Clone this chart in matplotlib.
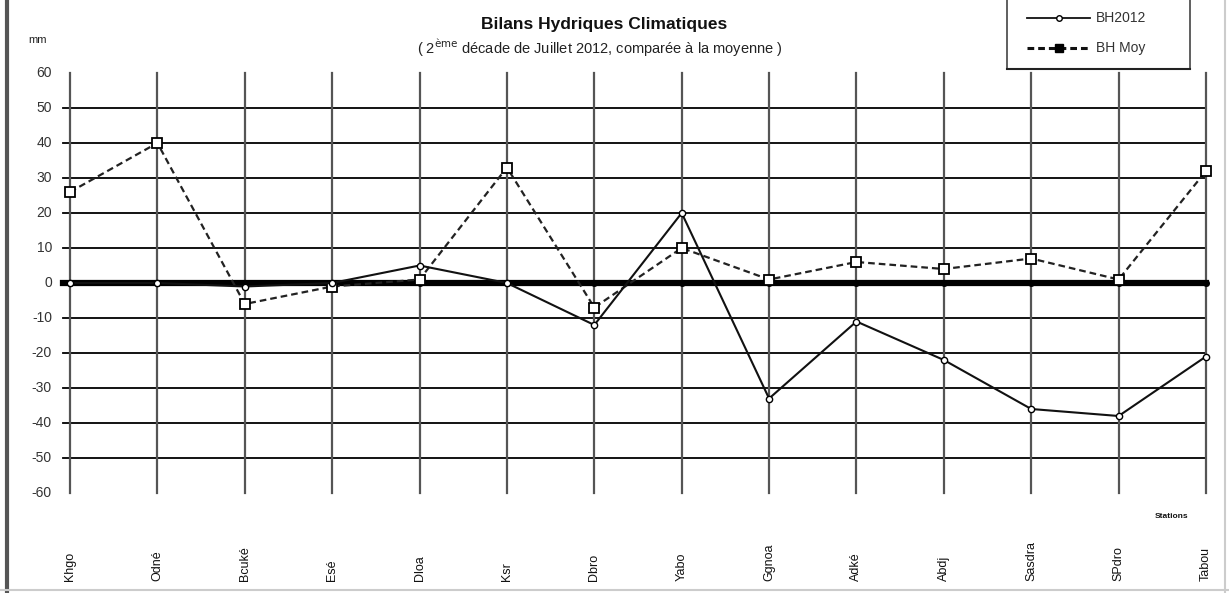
import matplotlib
matplotlib.use("Agg")
import matplotlib.pyplot as plt
from matplotlib.lines import Line2D
import numpy as np

stations = ["Khgo", "Odné", "Bcuké", "Esé", "Dloa", "Ksr", "Dbro", "Yabo",
            "Ggnoa", "Adké", "Abdj", "Sasdra", "SPdro", "Tabou"]
bh2012 = [0, 0, -1, 0, 5, 0, -12, 20, -33, -11, -22, -36, -38, -21]
bh_moy = [26, 40, -6, -1, 1, 33, -7, 10, 1, 6, 4, 7, 1, 32]
zero_line = [0] * len(stations)
ytick_values = [60, 50, 40, 30, 20, 10, 0, -10, -20, -30, -40, -50, -60]
ytick_labels = [str(v) for v in ytick_values]

W, H = 1229, 593
fig = plt.figure(figsize=(W / 100, H / 100), dpi=100)
fig.patch.set_facecolor("white")

x0, x1 = 70, 1206
y_top, y_bot = 73, 493
ax = fig.add_axes([x0 / W, (H - y_bot) / H, (x1 - x0) / W, (y_bot - y_top) / H])
n = len(stations)
x = np.arange(n)
ax.set_xlim(0, n - 1)
ax.set_ylim(-60, 60)
for s in ax.spines.values():
    s.set_visible(False)
ax.set_xticks([])
ax.set_yticks([])

step = (x1 - x0) / (n - 1)
left_ext = -7 / step
for v in ytick_values:
    if abs(v) < 60 and v != 0:
        ax.plot([left_ext, n - 1], [v, v], color="black", lw=1.3, clip_on=False, zorder=1)
for xi in x:
    ax.plot([xi, xi], [-60, 60], color="#555555", lw=1.6, clip_on=False, zorder=1)

# zero line
ax.plot([left_ext] + list(x), [0] + zero_line, color="black", lw=4.5, clip_on=False, zorder=2)
ax.plot(x, zero_line, "o", color="black", ms=4, clip_on=False, zorder=2)

# series
ax.plot(x, bh_moy, color="#222222", lw=1.6, ls=(0, (3, 1.8)), marker="s", ms=6.5,
        mfc="white", mec="black", mew=1.3, clip_on=False, zorder=3)
ax.plot(x, bh2012, color="#111111", lw=1.5, ls="-", marker="o", ms=4.5,
        mfc="white", mec="black", mew=1.0, clip_on=False, zorder=4)

for v, lab in zip(ytick_values, ytick_labels):
    ax.text(-18 / step, v, lab, ha="right", va="center",
            fontsize=10, color="#333333", family="Liberation Sans")

for xi, lab in zip(x, stations):
    fig.text((x0 + xi * step) / W, (H - 581) / H, lab, rotation=90,
             ha="center", va="bottom", fontsize=9, color="#111111", family="Liberation Sans")

fig.text(1172 / W, (H - 516) / H, "Stations", ha="center", va="center", fontsize=6,
         fontweight="bold", color="#111111", family="Liberation Sans")
fig.text(38 / W, (H - 40) / H, "mm", ha="center", va="center", fontsize=8,
         color="#222222", family="Liberation Sans")

fig.text(604 / W, (H - 24) / H, "Bilans Hydriques Climatiques", ha="center", va="center",
         fontsize=12.5, fontweight="bold", color="#111111", family="Liberation Sans")
fig.text(600 / W, (H - 48) / H, "( 2$^{\\rm ème}$ décade de Juillet 2012, comparée à la moyenne )",
         ha="center", va="center", fontsize=10.5, color="#222222", family="Liberation Sans")

# legend box (top open)
lx0, lx1, ly1 = 1007, 1190, 69
fig.add_artist(Line2D([lx0 / W, lx0 / W], [1, (H - ly1) / H], color="#444444", lw=1.2))
fig.add_artist(Line2D([lx1 / W, lx1 / W], [1, (H - ly1) / H], color="#444444", lw=1.2))
fig.add_artist(Line2D([lx0 / W, lx1 / W], [(H - ly1) / H] * 2, color="#222222", lw=1.5))
fig.add_artist(Line2D([1027 / W, 1058.5 / W, 1090 / W], [(H - 18) / H] * 3, color="#111111",
                      lw=1.3, marker="o", markevery=[1], ms=4, mfc="white", mec="black"))
fig.add_artist(Line2D([1027 / W, 1058.5 / W, 1090 / W], [(H - 48) / H] * 3, color="#111111",
                      lw=2.2, ls=(0, (2.2, 1.3)), marker="s", markevery=[1], ms=5.5,
                      mfc="black", mec="black"))
fig.text(1096 / W, (H - 18) / H, "BH2012", ha="left", va="center", fontsize=10,
         color="#333333", family="Liberation Sans")
fig.text(1096 / W, (H - 48) / H, "BH Moy", ha="left", va="center", fontsize=10,
         color="#333333", family="Liberation Sans")

fig.add_artist(Line2D([7 / W, 7 / W], [0, 1], color="#555555", lw=3))
fig.add_artist(Line2D([0, 1], [3 / H, 3 / H], color="#cccccc", lw=1.5))
fig.add_artist(Line2D([1225 / W, 1225 / W], [0, 1], color="#cccccc", lw=1.5))

fig.savefig("out.png", dpi=100, facecolor="white")
